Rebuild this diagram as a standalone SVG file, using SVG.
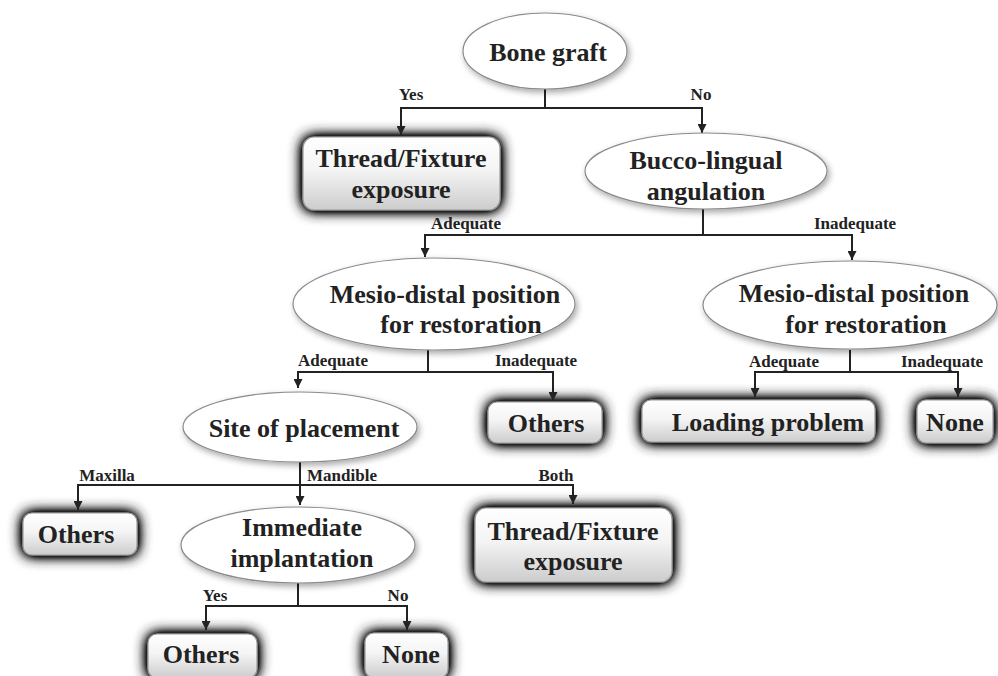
<svg xmlns="http://www.w3.org/2000/svg" width="998" height="676" viewBox="0 0 998 676">
<defs>
<linearGradient id="boxfill" x1="0" y1="0" x2="0" y2="1">
<stop offset="0" stop-color="#ffffff"/>
<stop offset="0.45" stop-color="#f4f4f4"/>
<stop offset="1" stop-color="#cccccc"/>
</linearGradient>
<filter id="glow" x="-25%" y="-50%" width="150%" height="200%">
<feGaussianBlur in="SourceAlpha" stdDeviation="7" result="b"/>
<feComponentTransfer in="b" result="d"><feFuncA type="linear" slope="2.4"/></feComponentTransfer>
<feFlood flood-color="#252525"/>
<feComposite in2="d" operator="in" result="s"/>
<feMerge><feMergeNode in="s"/><feMergeNode in="SourceGraphic"/></feMerge>
</filter>
<filter id="eshadow" x="-10%" y="-20%" width="125%" height="150%">
<feDropShadow dx="2" dy="3" stdDeviation="3" flood-color="#000" flood-opacity="0.35"/>
</filter>
<marker id="arr" viewBox="0 0 10 10" refX="10" refY="5" markerWidth="9" markerHeight="9" markerUnits="userSpaceOnUse" orient="auto">
<path d="M0,0 L10,5 L0,10 z" fill="#222"/>
</marker>
</defs>
<style>
.ell{fill:#ffffff;stroke:#8a8a8a;stroke-width:1.2;filter:url(#eshadow)}
.box{fill:url(#boxfill);stroke:#9a9a9a;stroke-width:1.2;filter:url(#glow)}
.t{font-family:"Liberation Serif","Times New Roman",serif;font-weight:bold;font-size:26px;fill:#222;text-anchor:middle}
.lb{font-family:"Liberation Serif","Times New Roman",serif;font-weight:bold;font-size:17px;fill:#222;text-anchor:middle}
.c{fill:none;stroke:#222;stroke-width:2}
.ca{fill:none;stroke:#222;stroke-width:2;marker-end:url(#arr)}
</style>
<rect width="998" height="676" fill="#ffffff"/>

<g id="connectors">
<path class="c" d="M545,88 V108"/>
<path class="ca" d="M545,108 H401 V135"/>
<path class="ca" d="M545,108 H702 V133"/>
<path class="c" d="M703,209 V235"/>
<path class="ca" d="M703,235 H425 V257"/>
<path class="ca" d="M703,235 H852 V260"/>
<path class="c" d="M428,350 V372"/>
<path class="ca" d="M428,372 H298 V388"/>
<path class="ca" d="M428,372 H553 V401"/>
<path class="c" d="M850,350 V372"/>
<path class="ca" d="M850,372 H755 V397"/>
<path class="ca" d="M850,372 H958 V397"/>
<path class="c" d="M300,462 V485"/>
<path class="ca" d="M300,485 H78 V510"/>
<path class="ca" d="M300,485 V505"/>
<path class="ca" d="M300,485 H573 V504"/>
<path class="c" d="M298,582 V606"/>
<path class="ca" d="M298,606 H206 V630"/>
<path class="ca" d="M298,606 H407 V630"/>
<text class="lb" x="411" y="100">Yes</text>
<text class="lb" x="701" y="100">No</text>
<text class="lb" x="466" y="229">Adequate</text>
<text class="lb" x="855" y="229">Inadequate</text>
<text class="lb" x="333" y="366">Adequate</text>
<text class="lb" x="536" y="366">Inadequate</text>
<text class="lb" x="784" y="367">Adequate</text>
<text class="lb" x="942" y="367">Inadequate</text>
<text class="lb" x="107" y="481">Maxilla</text>
<text class="lb" x="342" y="481">Mandible</text>
<text class="lb" x="556" y="481">Both</text>
<text class="lb" x="215" y="601">Yes</text>
<text class="lb" x="398" y="601">No</text>
</g>

<g id="n-bone-graft">
<ellipse class="ell" cx="545" cy="51" rx="82" ry="38"/>
<text class="t" x="548" y="61">Bone graft</text>
</g>
<g id="n-thread1">
<rect class="box" x="303" y="137" width="197" height="73" rx="11"/>
<text class="t" x="401" y="167">Thread/Fixture</text>
<text class="t" x="401" y="198">exposure</text>
</g>
<g id="n-bucco">
<ellipse class="ell" cx="706" cy="171" rx="121" ry="38"/>
<text class="t" x="706" y="169">Bucco-lingual</text>
<text class="t" x="706" y="200">angulation</text>
</g>
<g id="n-mesio-left">
<ellipse class="ell" cx="434" cy="304" rx="141" ry="46"/>
<text class="t" x="445" y="303">Mesio-distal position</text>
<text class="t" x="461" y="333">for restoration</text>
</g>
<g id="n-mesio-right">
<ellipse class="ell" cx="850" cy="305" rx="147" ry="44"/>
<text class="t" x="854" y="302">Mesio-distal position</text>
<text class="t" x="866" y="333">for restoration</text>
</g>
<g id="n-site">
<ellipse class="ell" cx="300" cy="427" rx="117" ry="35"/>
<text class="t" x="304" y="437">Site of placement</text>
</g>
<g id="n-others-mid">
<rect class="box" x="488" y="402" width="114" height="41" rx="9"/>
<text class="t" x="546" y="432">Others</text>
</g>
<g id="n-loading">
<rect class="box" x="642" y="400" width="233" height="42" rx="9"/>
<text class="t" x="768" y="431">Loading problem</text>
</g>
<g id="n-none-right">
<rect class="box" x="917" y="400" width="76" height="43" rx="9"/>
<text class="t" x="955" y="431">None</text>
</g>
<g id="n-others-left">
<rect class="box" x="23" y="513" width="114" height="42" rx="9"/>
<text class="t" x="76" y="543">Others</text>
</g>
<g id="n-immediate">
<ellipse class="ell" cx="298" cy="545" rx="117" ry="38"/>
<text class="t" x="302" y="536">Immediate</text>
<text class="t" x="302" y="567">implantation</text>
</g>
<g id="n-thread2">
<rect class="box" x="475" y="508" width="197" height="74" rx="11"/>
<text class="t" x="573" y="540">Thread/Fixture</text>
<text class="t" x="573" y="570">exposure</text>
</g>
<g id="n-others-bottom">
<rect class="box" x="148" y="634" width="109" height="44" rx="9"/>
<text class="t" x="201" y="663">Others</text>
</g>
<g id="n-none-bottom">
<rect class="box" x="365" y="633" width="83" height="45" rx="9"/>
<text class="t" x="411" y="663">None</text>
</g>
</svg>
